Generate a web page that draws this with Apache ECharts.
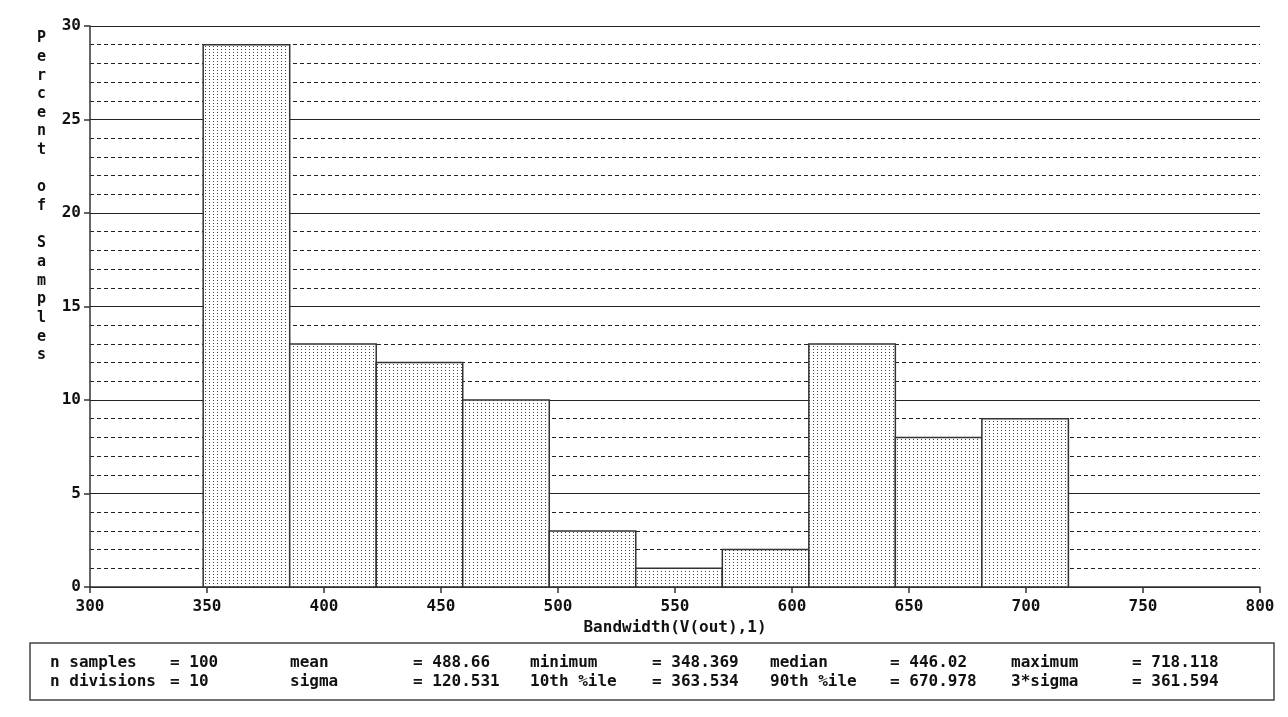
<!DOCTYPE html>
<html lang="en" style="height: 100%">
    <head>
        <meta charset="utf-8">
        <title>Histogram</title>
    </head>
    <body style="height: 100%; margin: 0; background: #fff">
        <div id="container" style="width: 1288px; height: 717px"></div>
        <script src="https://cdn.jsdelivr.net/npm/echarts@6/dist/echarts.min.js"></script>
        <script>
            // bin edges (11 edges -> 10 divisions) and percent of samples per bin
            let binEdges = [348.369, 385.344, 422.319, 459.294, 496.269, 533.243, 570.218, 607.193, 644.168, 681.143, 718.118];
            let percent = [29, 13, 12, 10, 3, 1, 2, 13, 8, 9];
            let xTicks = [300, 350, 400, 450, 500, 550, 600, 650, 700, 750, 800];
            let yTicks = [0, 5, 10, 15, 20, 25, 30];

            let statNames = [
                ["n samples", "n divisions"],
                ["mean", "sigma"],
                ["minimum", "10th %ile"],
                ["median", "90th %ile"],
                ["maximum", "3*sigma"]
            ];
            let statValues = [
                ["100", "10"],
                ["488.66", "120.531"],
                ["348.369", "363.534"],
                ["446.02", "670.978"],
                ["718.118", "361.594"]
            ];

            let font = "'DejaVu Sans Mono', 'Liberation Mono', monospace";

            function makeDots() {
                let c = document.createElement("canvas");
                c.width = 4;
                c.height = 3;
                let ctx = c.getContext("2d");
                ctx.fillStyle = "#fff";
                ctx.fillRect(0, 0, 4, 3);
                ctx.fillStyle = "#444";
                ctx.fillRect(1, 1, 1, 1);
                return c;
            }

            function drawChart() {
                let dom = document.getElementById("container");
                let chart = echarts.init(dom, null, { renderer: "canvas" });
                let dots = makeDots();

                let bins = [];
                for (let i = 0; i < percent.length; i++) {
                    bins.push([binEdges[i], binEdges[i + 1], percent[i]]);
                }

                let graphic = [];
                let title = "Percent of Samples".split("").join("\n");
                graphic.push({
                    type: "text",
                    left: 37,
                    top: 29,
                    style: {
                        text: title,
                        font: "bold 15px " + font,
                        lineHeight: 18.65,
                        fill: "#111"
                    }
                });
                graphic.push({
                    type: "rect",
                    shape: { x: 30, y: 643, width: 1244, height: 57 },
                    style: { fill: "none", stroke: "#444", lineWidth: 1.5 }
                });
                let labelX = [50, 290, 530, 770, 1011];
                let valueX = [170, 413, 652, 890, 1132];
                let rowY = [663, 682];
                for (let c = 0; c < statNames.length; c++) {
                    for (let r = 0; r < 2; r++) {
                        graphic.push({
                            type: "text",
                            x: labelX[c],
                            y: rowY[r],
                            style: {
                                text: statNames[c][r],
                                font: "bold 16px " + font,
                                fill: "#111",
                                verticalAlign: "middle"
                            }
                        });
                        graphic.push({
                            type: "text",
                            x: valueX[c],
                            y: rowY[r],
                            style: {
                                text: "= " + statValues[c][r],
                                font: "bold 16px " + font,
                                fill: "#111",
                                verticalAlign: "middle"
                            }
                        });
                    }
                }

                let option = {
                    animation: false,
                    backgroundColor: "#fff",
                    grid: { left: 90, right: 28, top: 26, bottom: 130 },
                    xAxis: {
                        type: "value",
                        min: xTicks[0],
                        max: xTicks[xTicks.length - 1],
                        interval: 50,
                        name: "Bandwidth(V(out),1)",
                        nameLocation: "middle",
                        nameGap: 32,
                        nameTextStyle: { fontFamily: font, fontWeight: "bold", fontSize: 16, color: "#111" },
                        axisLine: { lineStyle: { color: "#333", width: 1.5 } },
                        axisTick: { length: 6, lineStyle: { color: "#333", width: 1.5 } },
                        axisLabel: { margin: 12, fontFamily: font, fontWeight: "bold", fontSize: 16, color: "#111" },
                        splitLine: { show: false }
                    },
                    yAxis: {
                        type: "value",
                        min: yTicks[0],
                        max: yTicks[yTicks.length - 1],
                        interval: 5,
                        axisLine: { show: true, lineStyle: { color: "#333", width: 1.5 } },
                        axisTick: { show: true, length: 6, lineStyle: { color: "#333", width: 1.5 } },
                        axisLabel: { margin: 9, fontFamily: font, fontWeight: "bold", fontSize: 16, color: "#111" },
                        splitLine: { show: true, lineStyle: { color: "#222", width: 1.2, type: "solid" } },
                        minorTick: { show: false, splitNumber: 5 },
                        minorSplitLine: { show: true, lineStyle: { color: "#222", width: 1.2, type: [4, 3] } }
                    },
                    series: [
                        {
                            type: "custom",
                            data: bins,
                            renderItem: function (params, api) {
                                let p0 = api.coord([api.value(0), 0]);
                                let p1 = api.coord([api.value(1), api.value(2)]);
                                return {
                                    type: "rect",
                                    shape: { x: p0[0], y: p1[1], width: p1[0] - p0[0], height: p0[1] - p1[1] },
                                    style: {
                                        fill: { image: dots, repeat: "repeat" },
                                        stroke: "#333",
                                        lineWidth: 1.5
                                    }
                                };
                            }
                        }
                    ],
                    graphic: graphic
                };

                chart.setOption(option);
            }

            drawChart();
        </script>
    </body>
</html>
